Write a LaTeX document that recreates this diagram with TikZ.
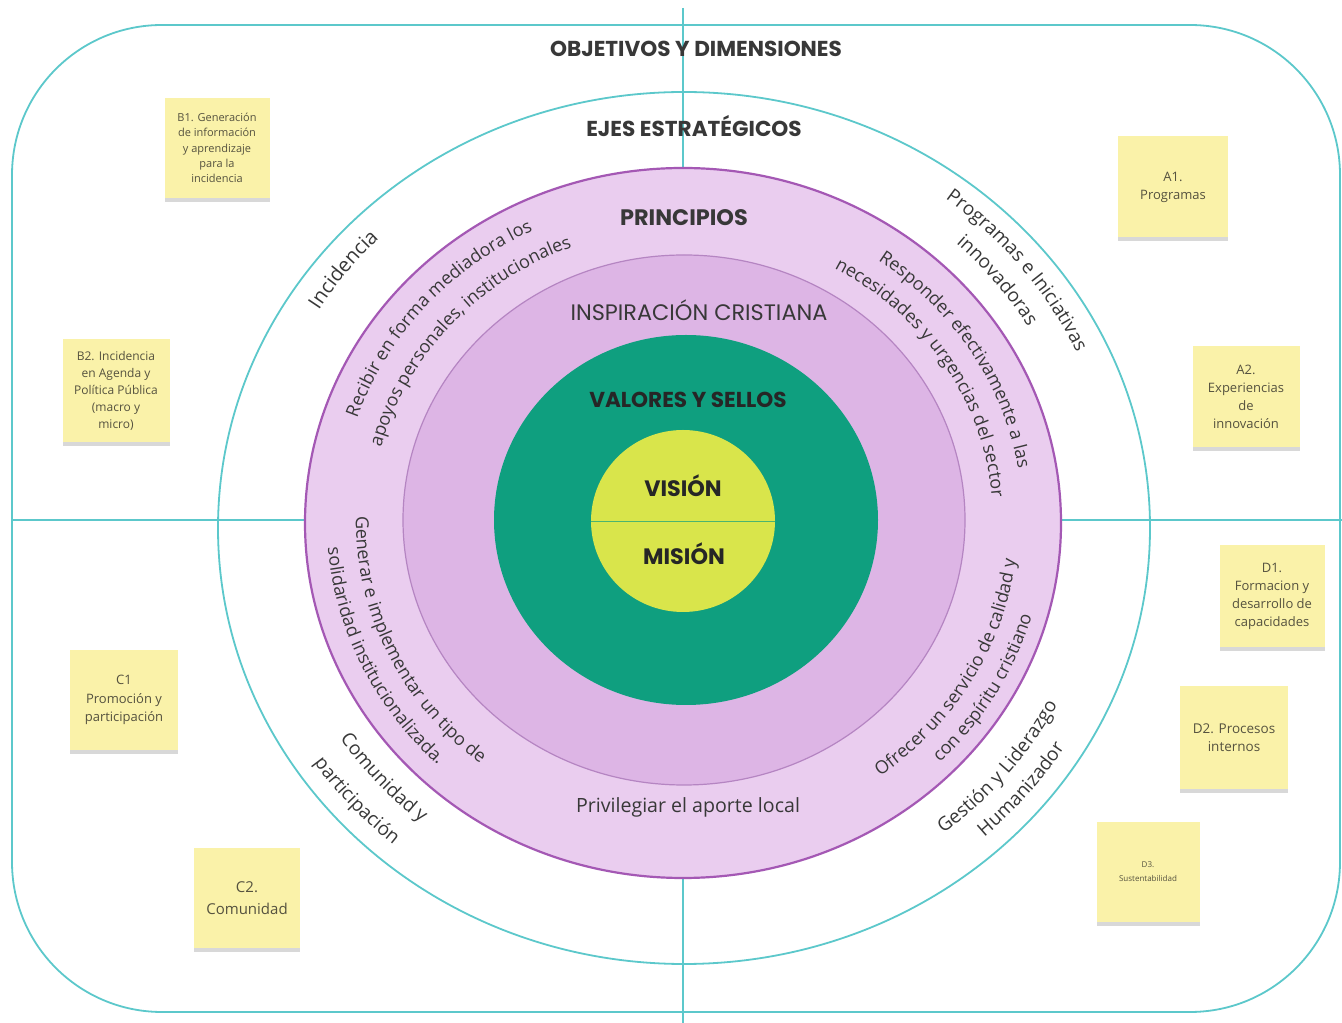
\documentclass[tikz,border=0pt]{standalone}
\usepackage{fontspec}
\setmainfont{Open Sans}
\newfontfamily\headfont{Poppins}
\usetikzlibrary{decorations.text,shadows}
\definecolor{tealline}{HTML}{5CC8CB}
\definecolor{ringA}{HTML}{EACDEF}
\definecolor{ringAb}{HTML}{A458B4}
\definecolor{ringB}{HTML}{DDB5E5}
\definecolor{ringBb}{HTML}{B585C2}
\definecolor{greenC}{HTML}{0F9F7F}
\definecolor{yellowC}{HTML}{D9E54B}
\definecolor{sticky}{HTML}{FAF2A9}
\definecolor{ink}{HTML}{383838}
\definecolor{noteink}{HTML}{55523F}
\newcommand{\arctext}[5]{%
  \path[decorate,decoration={text along path,text align=center,
    text={|\fontsize{#4}{#4}\selectfont\color{ink}|#5}}]
    (C) ++(#2:#1pt and 0.94*#1pt)
    arc[start angle=#2,end angle=#3,x radius=#1pt,y radius=0.94*#1pt];}
\tikzset{
  tline/.style={draw=tealline,line width=1.8pt},
  head/.style={font=\headfont\bfseries\fontsize{21.6}{24}\selectfont,text=ink,inner sep=0pt},
  note/.style={fill=sticky,align=center,text=noteink,inner sep=2pt,
    drop shadow={shadow xshift=0pt,shadow yshift=-4pt,opacity=0.25,fill=black!60}},
}
\begin{document}
\begin{tikzpicture}[x=1pt,y=1pt]
\path[use as bounding box,fill=white] (0,0) rectangle (1342,1023);
\coordinate (C) at (684,501);
% quadrant lines
\coordinate (vt) at (683,1015); \coordinate (vb) at (683,0);
\coordinate (hl) at (12,503); \coordinate (hr) at (1342,503);
\draw[tline] (vt) -- (vb);
\draw[tline] (hl) -- (hr);
% outer rounded frame
\draw[tline,rounded corners=150pt] (12,11) rectangle (1340,998);
% strategic axes ellipse
\draw[tline] (684,495) ellipse [x radius=466pt,y radius=436pt];
% rings
\fill[ringA,draw=ringAb,line width=2.2pt] (683,500) ellipse [x radius=378pt,y radius=355pt];
\fill[ringB,draw=ringBb,line width=1.2pt] (684,503) ellipse [x radius=281pt,y radius=265pt];
\fill[greenC] (686,503) ellipse [x radius=192pt,y radius=185pt];
\fill[yellowC] (683,502) ellipse [x radius=92pt,y radius=91pt];
\draw[draw=greenC!70!yellowC,line width=0.8pt] (591,502) -- (775,502);
% headings
\node[head] (obj) at (696,974) {OBJETIVOS Y DIMENSIONES};
\node[head] (ejes) at (694,897) {EJES ESTRATÉGICOS};
\node[head,font=\headfont\bfseries\fontsize{22.4}{24}\selectfont] (prin) at (684,805) {PRINCIPIOS};
\node[head,font=\headfont\fontsize{22.4}{24}\selectfont] (insp) at (699,713) {INSPIRACIÓN CRISTIANA};
\node[head,text=black!85] (val) at (688,623) {VALORES Y SELLOS};
\node[head,font=\headfont\bfseries\fontsize{22.3}{24}\selectfont,text=black!85] (vis) at (683,537) {VISIÓN};
\node[head,font=\headfont\bfseries\fontsize{22.3}{24}\selectfont,text=black!85] (mis) at (684,469) {MISIÓN};
\node[text=ink,font=\fontsize{19.6}{22}\selectfont,inner sep=0pt] (priv) at (688,216) {Privilegiar el aporte local};
% curved texts: strategic axes
\arctext{429}{162}{122}{20}{Incidencia}
\arctext{432}{64}{13}{19}{Programas e Iniciativas}
\arctext{402}{64}{14}{19}{innovadoras}
\arctext{414}{200}{244}{19}{Comunidad y}
\arctext{450}{200}{244}{19}{participación}
\arctext{421}{295}{346}{19}{Gestión y Liderazgo}
\arctext{450}{300}{340}{19}{Humanizador}
% curved texts: principles
\arctext{345}{175}{103}{18}{Recibir en forma mediadora los}
\arctext{313}{178}{99}{18}{apoyos personales, institucionales}
\arctext{339}{70}{-6}{18}{Responder efectivamente a las}
\arctext{309}{75}{-10}{18}{necesidades y urgencias del sector}
\arctext{328}{165}{245}{18}{Generar e implementar un tipo de}
\arctext{357}{165}{245}{18}{solidaridad institucionalizada.}
\arctext{334}{285}{375}{18}{Ofrecer un servicio de calidad y}
\arctext{362}{290}{370}{18}{con espíritu cristiano}
% sticky notes
\node[note,minimum width=105pt,minimum height=100pt,font=\fontsize{11}{15.2}\selectfont] (b1) at (217,875) {B1. Generación\\de información\\y aprendizaje\\para la\\incidencia};
\node[note,minimum width=107pt,minimum height=103pt,font=\fontsize{12}{17}\selectfont] (b2) at (116,632) {B2. Incidencia\\en Agenda y\\Política Pública\\(macro y\\micro)};
\node[note,minimum width=110pt,minimum height=101pt,font=\fontsize{13}{18}\selectfont] (a1) at (1173,836) {A1.\\Programas};
\node[note,minimum width=107pt,minimum height=101pt,font=\fontsize{13}{18}\selectfont] (a2) at (1246,626) {A2.\\Experiencias\\de\\innovación};
\node[note,minimum width=105pt,minimum height=102pt,font=\fontsize{13}{18}\selectfont] (d1) at (1272,427) {D1.\\Formacion y\\desarrollo de\\capacidades};
\node[note,minimum width=108pt,minimum height=103pt,font=\fontsize{13.5}{18}\selectfont] (d2) at (1234,285) {D2. Procesos\\internos};
\node[note,minimum width=103pt,minimum height=100pt,font=\fontsize{8}{14}\selectfont] (d3) at (1148,151) {D3.\\Sustentabilidad};
\node[note,minimum width=108pt,minimum height=100pt,font=\fontsize{13}{18.5}\selectfont] (c1) at (124,323) {C1\\Promoción y\\participación};
\node[note,minimum width=106pt,minimum height=100pt,font=\fontsize{15}{22}\selectfont] (c2) at (247,125) {C2.\\Comunidad};
\end{tikzpicture}
\end{document}
